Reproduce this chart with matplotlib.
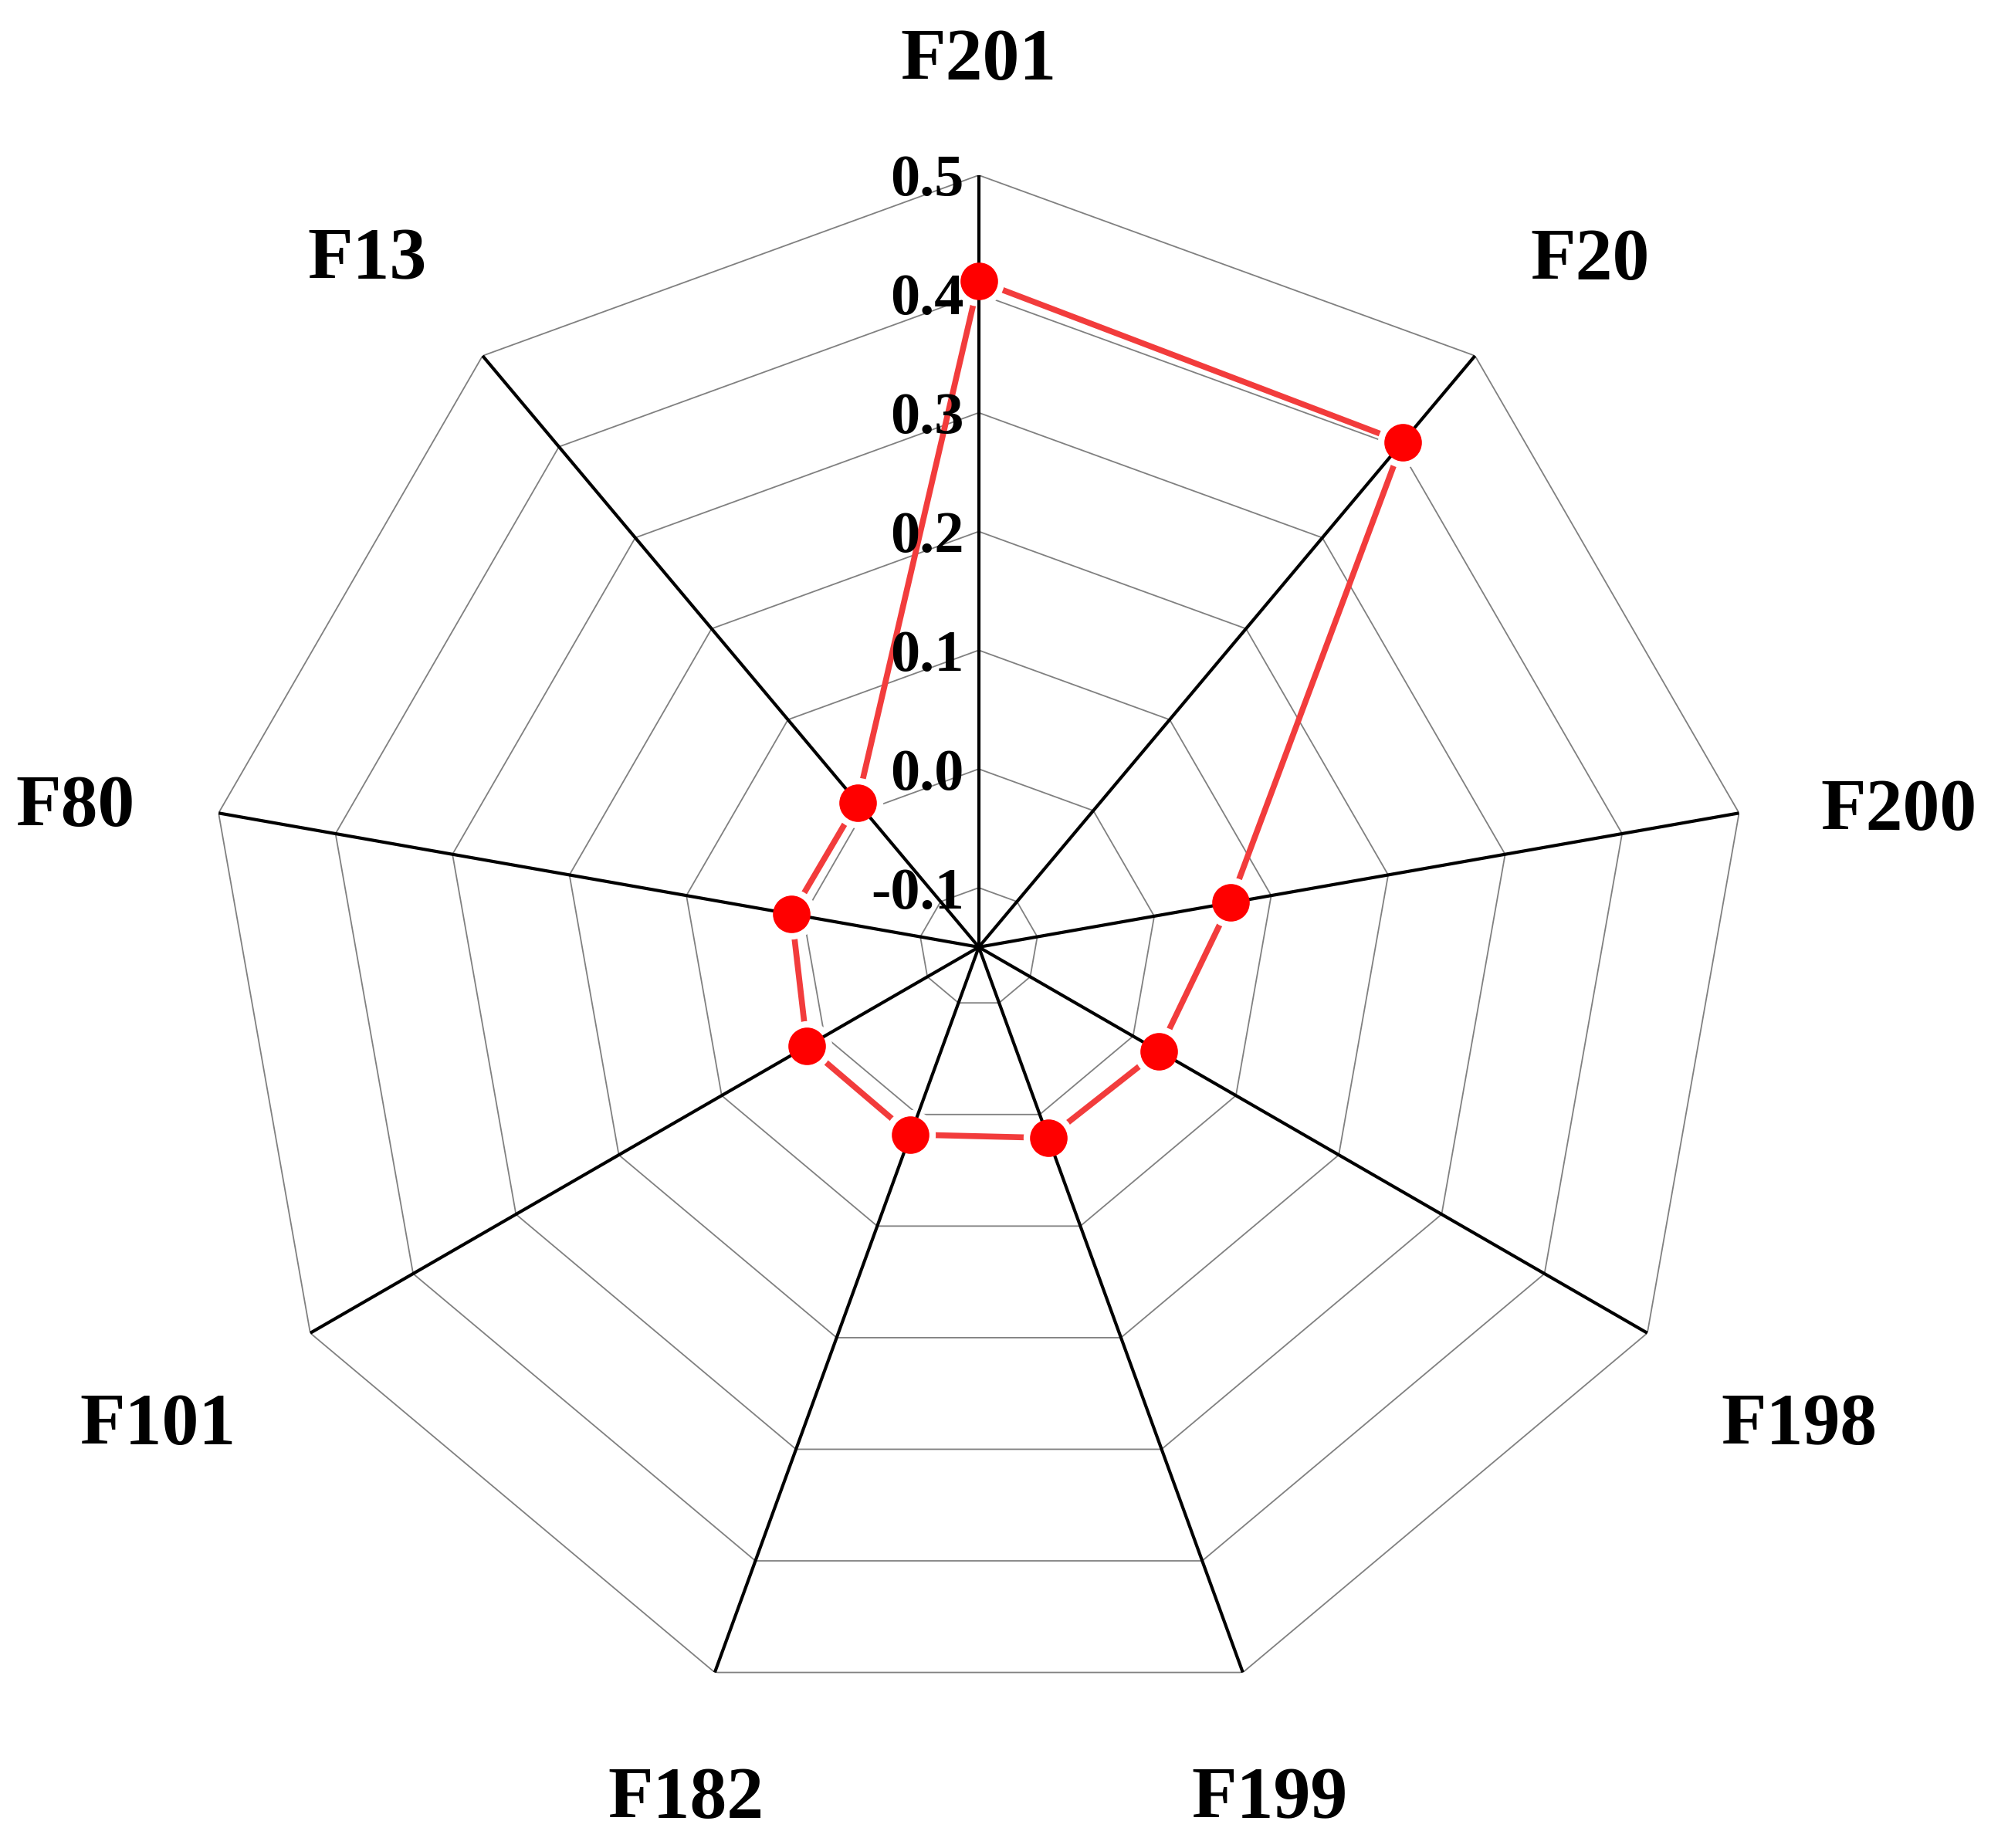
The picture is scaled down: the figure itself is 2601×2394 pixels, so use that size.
import numpy as np
import matplotlib.pyplot as plt
from matplotlib.transforms import offset_copy

# data
categories = ['F201', 'F20', 'F200', 'F198', 'F199', 'F182', 'F101', 'F80', 'F13']
values = [0.411, 0.405, 0.065, 0.025, 0.021, 0.018, 0.017, 0.010, 0.009]
ring_ticks = [-0.1, 0.0, 0.1, 0.2, 0.3, 0.4, 0.5]
tick_labels = ['-0.1', '0.0', '0.1', '0.2', '0.3', '0.4', '0.5']
r_min, r_max = -0.15, 0.5

# where each category label sits (layout only): angle clockwise from north, radius
label_deg = [0, 41.4, 81.2, 119.9, 161.0, 199.1, 240.1, 279.2, 318.6]
label_r = [0.602, 0.628, 0.634, 0.647, 0.603, 0.603, 0.647, 0.621, 0.629]

plt.rcParams['font.family'] = ['Liberation Serif', 'DejaVu Serif']
plt.rcParams['font.weight'] = 'bold'

fig = plt.figure(figsize=(26.01, 23.94), dpi=100)
ax = fig.add_axes([0.1030, 0.0698, 0.7689, 0.8354], projection='polar')
ax.set_theta_zero_location('N')
ax.set_theta_direction(-1)
ax.set_ylim(r_min, r_max)
ax.grid(False)
ax.set_xticks([])
ax.set_yticks([])
ax.spines['polar'].set_visible(False)
ax.patch.set_visible(False)

n = len(categories)
theta = np.arange(n) * 2 * np.pi / n
theta_closed = np.append(theta, theta[0])
values_closed = np.append(values, values[0])

# polygon rings
for r in ring_ticks:
    ax.plot(theta_closed, [r] * (n + 1), color='#808080', lw=1.3, zorder=1)

# data line, with white halo so the line stops short of the markers
ax.plot(theta_closed, values_closed, color='#f23c3c', lw=5.5, zorder=2,
        solid_capstyle='butt')
ax.plot(theta, values, 'o', ms=47, color='white', mec='none', zorder=3)

# spokes
for t in theta:
    ax.plot([t, t], [r_min, r_max], color='black', lw=3.0, zorder=4)

ax.plot(theta, values, 'o', ms=35, color='#ff0000', mec='none', zorder=5)

# radial tick labels along the top spoke
tick_tr = offset_copy(ax.transData, fig=fig, x=-19, y=0, units='dots')
for r, lab in zip(ring_ticks, tick_labels):
    ax.text(0, r, lab, transform=tick_tr, ha='right', va='center_baseline',
            fontsize=55, fontweight='bold', zorder=6)

# category labels
for d, lr, cat in zip(label_deg, label_r, categories):
    ax.text(np.deg2rad(d), lr, cat, ha='center', va='center_baseline',
            fontsize=69, fontweight='bold')

fig.savefig('out.png', dpi=100)
